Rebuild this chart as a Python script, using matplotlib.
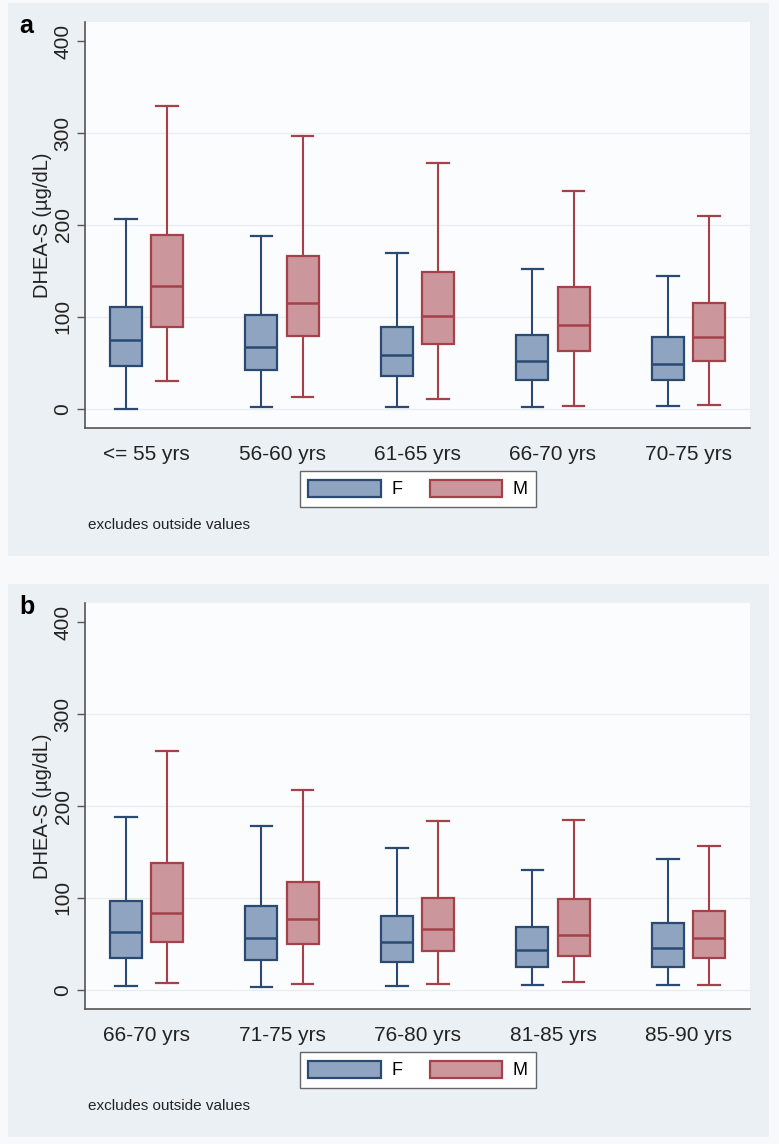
import matplotlib
matplotlib.use("Agg")
import matplotlib.pyplot as plt
from matplotlib.patches import Rectangle, Patch

plt.rcParams['font.family'] = ['Liberation Sans', 'DejaVu Sans']

# age groups for each panel
groups_a = ['<= 55 yrs', '56-60 yrs', '61-65 yrs', '66-70 yrs', '70-75 yrs']
groups_b = ['66-70 yrs', '71-75 yrs', '76-80 yrs', '81-85 yrs', '85-90 yrs']

# panel a, women (F): lower whisker, Q1, median, Q3, upper whisker
a_f_lo = [0, 1.5, 1.5, 2, 3.3]
a_f_q1 = [46, 42, 36, 31.5, 31]
a_f_med = [75, 67.5, 58, 52, 49]
a_f_q3 = [111, 101.5, 89.5, 80, 78]
a_f_hi = [206, 188, 170, 152.5, 145]

# panel a, men (M)
a_m_lo = [30, 13, 11, 2.5, 3.6]
a_m_q1 = [88.5, 79, 70.5, 63, 51.5]
a_m_med = [134, 115.5, 101, 91, 78.5]
a_m_q3 = [189.5, 166.5, 149, 132, 115.5]
a_m_hi = [330, 297, 267, 236.5, 210]

# panel b, women (F)
b_f_lo = [4.4, 2.9, 4, 4.7, 5.1]
b_f_q1 = [34.5, 32.7, 29.8, 24.7, 24.7]
b_f_med = [62.5, 56, 51.6, 43.3, 45]
b_f_q3 = [96.3, 90.9, 80, 68.7, 73]
b_f_hi = [188.4, 178, 154, 130.5, 142]

# panel b, men (M)
b_m_lo = [7.3, 5.8, 6.2, 8.7, 5.1]
b_m_q1 = [52.3, 50.2, 42.5, 37, 34]
b_m_med = [83.2, 77.4, 66.5, 60, 56]
b_m_q3 = [137.7, 117, 100, 98.5, 85.8]
b_m_hi = [259.6, 217, 183.3, 185, 156.5]

F_FACE, F_EDGE = '#8fa4c0', '#2b4a72'
M_FACE, M_EDGE = '#cc979c', '#a5414a'
PANEL_BG = '#ebf0f4'
PLOT_BG = '#fbfcfd'

W, H = 779, 1144
fig = plt.figure(figsize=(W / 100, H / 100), dpi=100)
fig.patch.set_facecolor('#f7f9fa')


def stats(lo, q1, med, q3, hi):
    return [dict(whislo=a, q1=b, med=c, q3=d, whishi=e, fliers=[])
            for a, b, c, d, e in zip(lo, q1, med, q3, hi)]


def draw_panel(top, letter, groups, f_stats, m_stats):
    # grey-blue panel background (Stata style), behind the axes
    fig.patches.append(Rectangle((8 / W, 1 - (top + 534) / H), 761 / W, 553 / H,
                                 transform=fig.transFigure, facecolor=PANEL_BG,
                                 edgecolor='none', zorder=-5))
    fig.text(19 / W, 1 - (top + 11) / H, letter, fontsize=18, fontweight='bold',
             ha='left', va='baseline')

    ax = fig.add_axes([85 / W, 1 - (top + 406) / H, 665 / W, 406 / H])
    ax.set_facecolor(PLOT_BG)
    pos = list(range(1, len(groups) + 1))
    for st, off, face, edge in [(f_stats, -0.152, F_FACE, F_EDGE),
                                (m_stats, 0.152, M_FACE, M_EDGE)]:
        ax.bxp(st, positions=[p + off for p in pos], widths=0.236,
               capwidths=0.16, patch_artist=True, showfliers=False,
               boxprops=dict(facecolor=face, edgecolor=edge, linewidth=1.6),
               medianprops=dict(color=edge, linewidth=1.8),
               whiskerprops=dict(color=edge, linewidth=1.5),
               capprops=dict(color=edge, linewidth=1.6),
               manage_ticks=False, zorder=3)

    ax.set_xlim(0.545, 5.455)
    ax.set_ylim(-21, 421)
    ax.set_yticks([0, 100, 200, 300, 400])
    ax.set_xticks(pos)
    ax.set_xticklabels(groups, fontsize=15, color='#222222')
    for y in [0, 100, 200, 300]:
        ax.axhline(y, color='#e9edf0', linewidth=1, zorder=1)
    ax.tick_params(axis='x', length=0, pad=12)
    ax.tick_params(axis='y', length=6, width=1, color='#555555', pad=3,
                   labelsize=15, labelcolor='#222222', labelrotation=90)
    for lab in ax.get_yticklabels():
        lab.set_va('center')
    for s in ['top', 'right']:
        ax.spines[s].set_visible(False)
    for s in ['left', 'bottom']:
        ax.spines[s].set_color('#555555')
        ax.spines[s].set_linewidth(1.2)
    ax.set_ylabel('DHEA-S (µg/dL)', fontsize=14.5, color='#222222', labelpad=1)

    handles = [Patch(facecolor=F_FACE, edgecolor=F_EDGE, linewidth=1.6, label='F'),
               Patch(facecolor=M_FACE, edgecolor=M_EDGE, linewidth=1.6, label='M')]
    leg = fig.legend(handles=handles, loc='center', ncol=2,
                     bbox_to_anchor=(418 / W, 1 - (top + 467) / H),
                     fontsize=13, handlelength=4.0, handleheight=1.1,
                     handletextpad=0.6, columnspacing=1.5, borderpad=0.45,
                     fancybox=False, framealpha=1, facecolor='white',
                     edgecolor='#666666')
    leg.get_frame().set_linewidth(1.0)
    fig.text(88 / W, 1 - (top + 503) / H, 'excludes outside values',
             fontsize=11, color='#222222', ha='left', va='center')


draw_panel(22, 'a', groups_a,
           stats(a_f_lo, a_f_q1, a_f_med, a_f_q3, a_f_hi),
           stats(a_m_lo, a_m_q1, a_m_med, a_m_q3, a_m_hi))
draw_panel(603, 'b', groups_b,
           stats(b_f_lo, b_f_q1, b_f_med, b_f_q3, b_f_hi),
           stats(b_m_lo, b_m_q1, b_m_med, b_m_q3, b_m_hi))

fig.savefig('out.png', dpi=100, facecolor=fig.get_facecolor())
